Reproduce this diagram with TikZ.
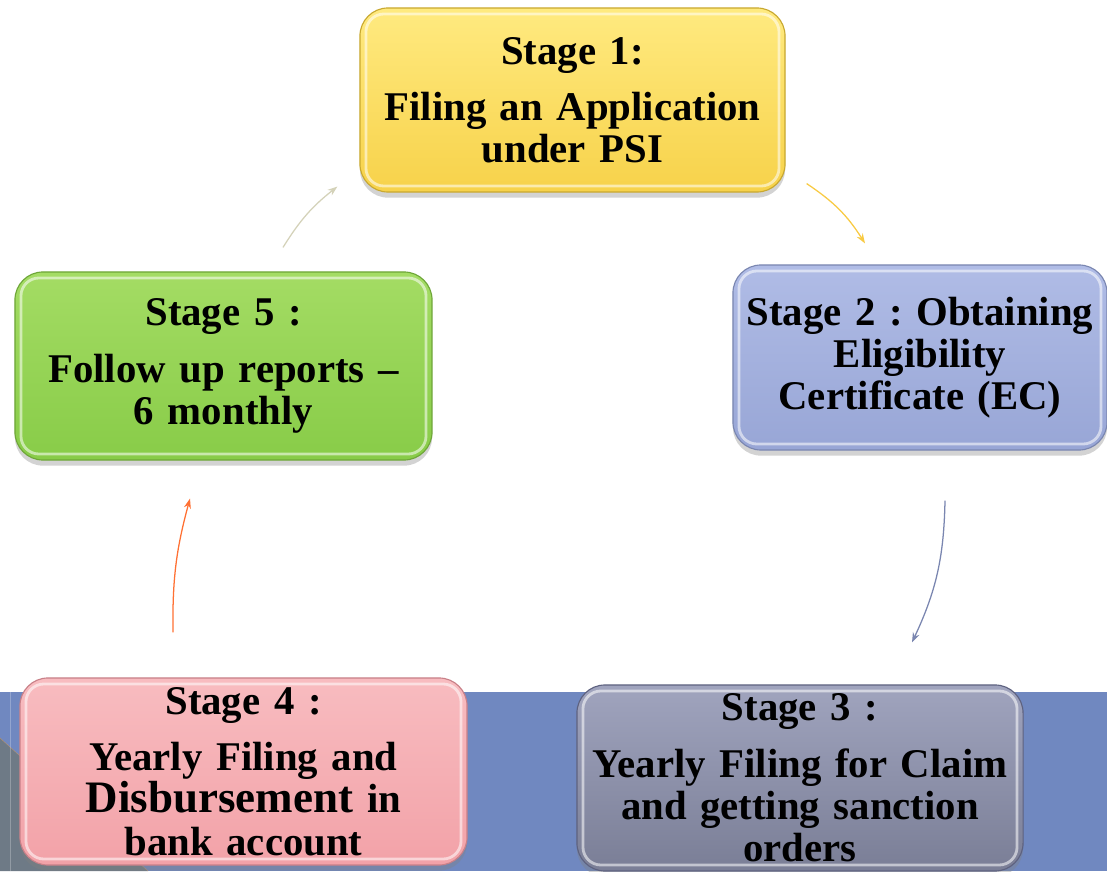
\documentclass[tikz,border=0pt]{standalone}
\usepackage{fontspec}
\setmainfont{Liberation Serif}
\usetikzlibrary{arrows.meta,shadows}
\frenchspacing

\definecolor{yelTop}{HTML}{FFEA80}
\definecolor{yelBot}{HTML}{F7D24A}
\definecolor{yelLine}{HTML}{C8A830}
\definecolor{bluTop}{HTML}{B0BCE6}
\definecolor{bluBot}{HTML}{98A6D6}
\definecolor{bluLine}{HTML}{7A86B0}
\definecolor{grnTop}{HTML}{A4DC64}
\definecolor{grnBot}{HTML}{88CC48}
\definecolor{grnLine}{HTML}{6EA638}
\definecolor{pnkTop}{HTML}{F8BCC0}
\definecolor{pnkBot}{HTML}{F2A2A8}
\definecolor{pnkLine}{HTML}{C88088}
\definecolor{gryTop}{HTML}{A0A4BE}
\definecolor{gryBot}{HTML}{7A7E96}
\definecolor{gryLine}{HTML}{5E6280}
\definecolor{bandBlue}{HTML}{7088C0}
\definecolor{cornerGrey}{HTML}{6E7A86}

\tikzset{
  stagebox/.style n args={3}{draw=#3, line width=0.8pt, rounded corners=0.7cm,
    top color=#1, bottom color=#2, inner sep=0pt, align=center,
    font=\fontsize{29}{30}\selectfont\bfseries,
    drop shadow={shadow xshift=0pt, shadow yshift=-4pt, opacity=0.35},
    path picture={\draw[white, opacity=0.55, line width=2pt, rounded corners=0.45cm]
      ([shift={(6,-6)}]path picture bounding box.north west) rectangle
      ([shift={(-6,6)}]path picture bounding box.south east);}},
  flow/.style={-{Stealth[length=7pt,width=5pt]}, line width=0.9pt, draw=#1}
}

\begin{document}
\begin{tikzpicture}[x=0.025cm, y=0.025cm]
  \useasboundingbox (0,0) rectangle (1107,871);

  % bottom band
  \fill[bandBlue] (0,0) rectangle (1107,179);
  \fill[cornerGrey] (0,0) -- (0,133) -- (148,0) -- cycle;
  \draw[orange!70!white, opacity=0.5, line width=0.3pt] (0,133) -- (148,0);
  \draw[white, opacity=0.25, line width=0.6pt] (10,0) -- (10,179);

  % stages
  \node[stagebox={yelTop}{yelBot}{yelLine}, minimum width=10.625cm, minimum height=4.6cm,
    text width=10cm] (s1) at (572.5,771)
    {Stage 1:\\[10pt] Filing an Application\\ under PSI};
  \node[stagebox={bluTop}{bluBot}{bluLine}, minimum width=9.35cm, minimum height=4.625cm,
    text width=9cm] (s2) at (920,513.5)
    {Stage 2 : Obtaining\\ Eligibility\\ Certificate (EC)};
  \node[stagebox={gryTop}{gryBot}{gryLine}, minimum width=11.15cm, minimum height=4.65cm,
    text width=10.6cm] (s3) at (800,93)
    {Stage 3 :\\[10pt] Yearly Filing for Claim\\ and getting sanction\\ orders};
  \node[stagebox={pnkTop}{pnkBot}{pnkLine}, minimum width=11.175cm, minimum height=4.675cm,
    text width=10.6cm] (s4) at (243.5,99.5)
    {Stage 4 :\\[10pt] Yearly Filing and\\ {\fontsize{32}{30}\selectfont Disbursement} in\\ bank account};
  \node[stagebox={grnTop}{grnBot}{grnLine}, minimum width=10.425cm, minimum height=4.7cm,
    text width=10cm] (s5) at (223.5,505)
    {Stage 5 :\\[10pt] Follow up reports --\\ 6 monthly};

  % arrows
  \draw[flow=yelBot!90!orange] ([shift={(21,9)}]s1.south east) to[bend left=12] ([shift={(-55,21)}]s2.north);
  \draw[flow=bluLine] ([shift={(25,-50)}]s2.south) to[bend left=12] ([shift={(112,42)}]s3.north);
  \draw[flow=orange!60!red!80!white] ([shift={(-70.5,45)}]s4.north) to[bend left=8] ([shift={(-33.5,-38)}]s5.south);
  \draw[flow=black!25!yellow!20!white!85!black] ([shift={(59.5,24)}]s5.north) to[bend left=10] ([shift={(-22,6)}]s1.south west);
\end{tikzpicture}
\end{document}
